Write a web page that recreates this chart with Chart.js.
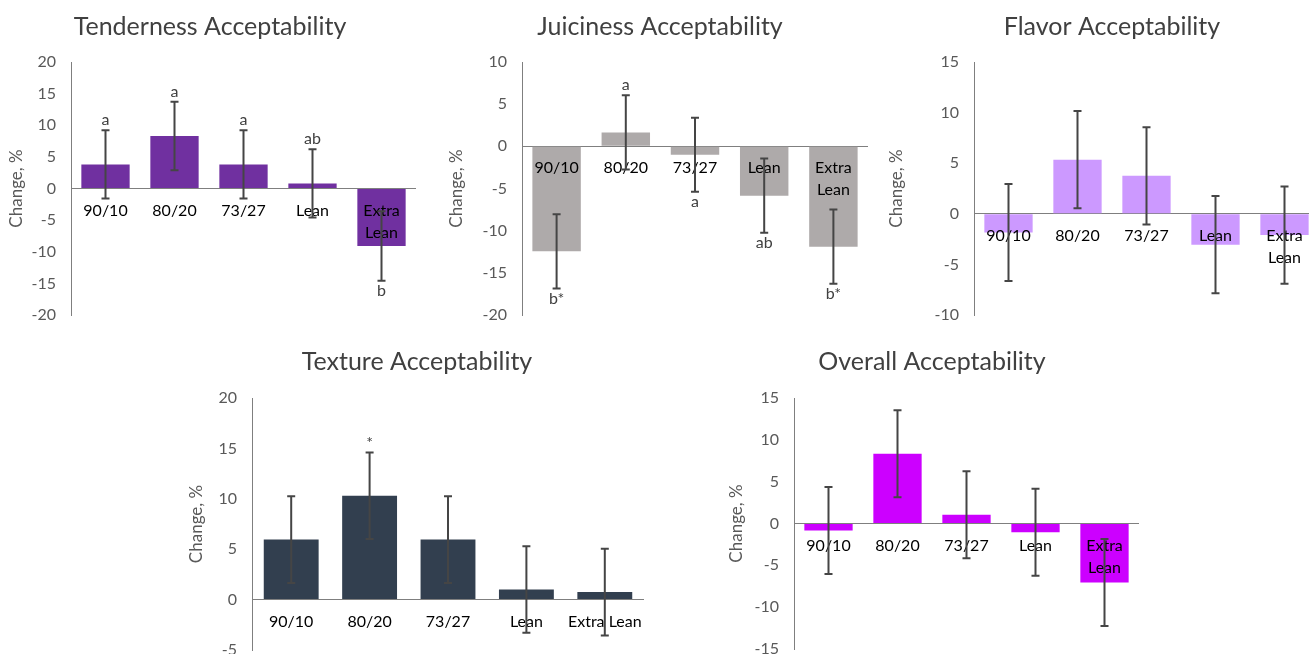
<!DOCTYPE html>
<html>
<head>
<meta charset="utf-8">
<script src="https://cdn.jsdelivr.net/npm/chart.js@4.4.1/dist/chart.umd.min.js"></script>
<style>
  body { margin: 0; background: #fff; }
  #wrap { position: relative; width: 1309px; height: 654px; overflow: hidden; background: #fff; }
  #wrap canvas { position: absolute; }
</style>
</head>
<body>
<div id="wrap">
  <canvas id="tender"></canvas>
  <canvas id="juicy"></canvas>
  <canvas id="flavor"></canvas>
  <canvas id="texture"></canvas>
  <canvas id="overall"></canvas>
</div>
<script>
// Categorieen (gelijk voor alle panelen)
const categories = ["90/10", "80/20", "73/27", "Lean", "Extra Lean"];

// Waarden (verandering, %) en foutmarges
const tenderValues = [3.8, 8.3, 3.8, 0.8, -9.1];
const tenderErrors = [5.4, 5.4, 5.4, 5.4, 5.5];
const tenderLetters = ["a", "a", "a", "ab", "b"];

const juicyValues = [-12.45, 1.65, -1.0, -5.85, -11.9];
const juicyErrors = [4.4, 4.4, 4.4, 4.4, 4.4];
const juicyLetters = ["b*", "a", "a", "ab", "b*"];

const flavorValues = [-1.85, 5.35, 3.75, -3.05, -2.1];
const flavorErrors = [4.8, 4.8, 4.8, 4.8, 4.8];
const flavorLetters = ["", "", "", "", ""];

const textureValues = [5.95, 10.3, 5.95, 1.0, 0.75];
const textureErrors = [4.3, 4.3, 4.3, 4.3, 4.3];
const textureLetters = ["", "*", "", "", ""];

const overallValues = [-0.85, 8.35, 1.05, -1.05, -7.05];
const overallErrors = [5.2, 5.2, 5.2, 5.2, 5.2];
const overallLetters = ["", "", "", "", ""];

// Y-as bereiken
const tenderTicks = { min: -20, max: 20, step: 5 };
const juicyTicks = { min: -20, max: 10, step: 5 };
const flavorTicks = { min: -10, max: 15, step: 5 };
const textureTicks = { min: -5, max: 20, step: 5 };
const overallTicks = { min: -15, max: 15, step: 5 };

const FONT = "Lato, 'Open Sans', sans-serif";

const panels = [
  { id: "tender", title: "Tenderness Acceptability", values: tenderValues, errors: tenderErrors,
    letters: tenderLetters, ticks: tenderTicks, color: "#7030A0", wrapLabels: true,
    box: { left: 0, top: 0, w: 440, h: 335 }, area: { left: 71, top: 62, right: 416, bottom: 315 }, titlePos: [210, 27] },
  { id: "juicy", title: "Juiciness Acceptability", values: juicyValues, errors: juicyErrors,
    letters: juicyLetters, ticks: juicyTicks, color: "#AEAAAA", wrapLabels: true,
    box: { left: 440, top: 0, w: 440, h: 335 }, area: { left: 82, top: 62, right: 428, bottom: 315 }, titlePos: [220, 27] },
  { id: "flavor", title: "Flavor Acceptability", values: flavorValues, errors: flavorErrors,
    letters: flavorLetters, ticks: flavorTicks, color: "#CC99FF", wrapLabels: true,
    box: { left: 880, top: 0, w: 460, h: 335 }, area: { left: 94, top: 62, right: 439, bottom: 315 }, titlePos: [232, 27] },
  { id: "texture", title: "Texture Acceptability", values: textureValues, errors: textureErrors,
    letters: textureLetters, ticks: textureTicks, color: "#323F4F", wrapLabels: false,
    box: { left: 180, top: 330, w: 480, h: 335 }, area: { left: 72, top: 68, right: 464, bottom: 320 }, titlePos: [237, 32] },
  { id: "overall", title: "Overall Acceptability", values: overallValues, errors: overallErrors,
    letters: overallLetters, ticks: overallTicks, color: "#CC00FF", wrapLabels: true,
    box: { left: 720, top: 330, w: 440, h: 335 }, area: { left: 74, top: 68, right: 419, bottom: 319 }, titlePos: [212, 32] }
];

// Titel, categorie-labels, foutbalken en letters
const extrasPlugin = {
  id: "extras",
  afterDatasetsDraw(chart, args, opts) {
    const p = opts.panel;
    const ctx = chart.ctx;
    const xs = chart.scales.x, ys = chart.scales.y;
    const y0 = ys.getPixelForValue(0);
    ctx.save();

    // titel
    ctx.fillStyle = "#404040";
    ctx.font = "25px " + FONT;
    ctx.textAlign = "center";
    ctx.textBaseline = "middle";
    ctx.fillText(p.title, p.titlePos[0], p.titlePos[1]);

    // categorie-labels net onder de nullijn
    ctx.fillStyle = "#000";
    ctx.font = "16px " + FONT;
    categories.forEach((c, i) => {
      const x = xs.getPixelForValue(i);
      const lines = p.wrapLabels ? c.split(" ") : [c];
      lines.forEach((l, k) => ctx.fillText(l, x, y0 + 22 + k * 22));
    });

    // foutbalken
    ctx.strokeStyle = "#454545";
    ctx.lineWidth = 2;
    p.values.forEach((v, i) => {
      const x = xs.getPixelForValue(i);
      const yt = ys.getPixelForValue(v + p.errors[i]);
      const yb = ys.getPixelForValue(v - p.errors[i]);
      ctx.beginPath();
      ctx.moveTo(x, yt); ctx.lineTo(x, yb);
      ctx.moveTo(x - 4, yt); ctx.lineTo(x + 4, yt);
      ctx.moveTo(x - 4, yb); ctx.lineTo(x + 4, yb);
      ctx.stroke();
    });

    // letters boven/onder de foutbalk
    ctx.fillStyle = "#404040";
    ctx.font = "16px " + FONT;
    p.letters.forEach((t, i) => {
      if (!t) return;
      const v = p.values[i];
      const x = xs.getPixelForValue(i);
      if (v >= 0) {
        ctx.textBaseline = "bottom";
        ctx.fillText(t, x, ys.getPixelForValue(v + p.errors[i]) - 2);
      } else {
        ctx.textBaseline = "top";
        ctx.fillText(t, x, ys.getPixelForValue(v - p.errors[i]) + 2);
      }
    });
    ctx.restore();
  }
};

panels.forEach(p => {
  const cv = document.getElementById(p.id);
  cv.width = p.box.w; cv.height = p.box.h;
  cv.style.left = p.box.left + "px"; cv.style.top = p.box.top + "px";
  cv.style.width = p.box.w + "px"; cv.style.height = p.box.h + "px";

  new Chart(cv.getContext("2d"), {
    type: "bar",
    data: {
      labels: categories,
      datasets: [{
        data: p.values,
        backgroundColor: p.color,
        categoryPercentage: 1,
        barPercentage: 0.7
      }]
    },
    options: {
      responsive: false,
      animation: false,
      devicePixelRatio: 1,
      layout: {
        padding: { left: 0, top: p.area.top, right: p.box.w - p.area.right, bottom: p.box.h - p.area.bottom }
      },
      plugins: {
        legend: { display: false },
        title: { display: false },
        tooltip: { enabled: false },
        extras: { panel: p }
      },
      scales: {
        x: { display: false },
        y: {
          min: p.ticks.min,
          max: p.ticks.max,
          afterFit: s => { s.width = p.area.left; },
          ticks: { stepSize: p.ticks.step, padding: 0, color: "#595959", font: { family: FONT, size: 16 } },
          grid: {
            drawTicks: true,
            tickLength: 15,
            tickColor: "rgba(0,0,0,0)",
            color: c => (c.tick && c.tick.value === 0 ? "#7f7f7f" : "rgba(0,0,0,0)"),
            lineWidth: 1
          },
          border: { display: true, color: "#7f7f7f", width: 1 },
          title: {
            display: true,
            text: "Change, %",
            color: "#595959",
            font: { family: FONT, size: 17 },
            padding: { top: 6, bottom: 0 }
          }
        }
      }
    },
    plugins: [extrasPlugin]
  });
});
</script>
</body>
</html>
